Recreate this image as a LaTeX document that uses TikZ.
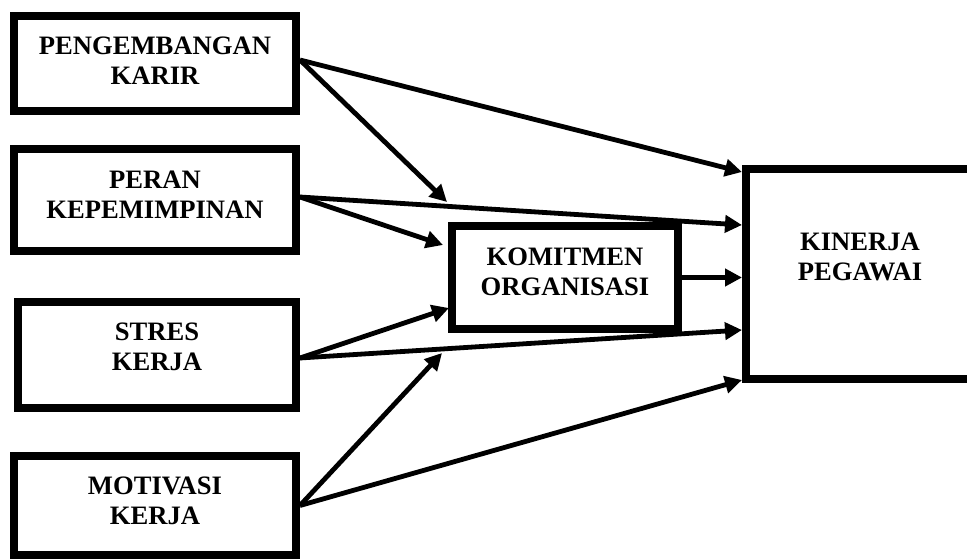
\documentclass[tikz,border=0pt]{standalone}
\usepackage{fontspec}
\setmainfont{Liberation Serif}
\usetikzlibrary{arrows.meta}
\begin{document}
\begin{tikzpicture}[x=1pt,y=-1pt,
  box/.style={draw=black,line width=8pt,rectangle,inner sep=0pt},
  lbl/.style={align=center,font=\fontsize{26.6}{30}\selectfont\bfseries,inner sep=0pt},
  arr/.style={line width=4.8pt,-{Triangle[length=17pt,width=17pt]}}]
\clip (0,0) rectangle (967,559);
\fill[white] (0,0) rectangle (967,559);
% boxes
\node[box,minimum width=282pt,minimum height=95pt] (pk) at (155,63.5) {};
\node[box,minimum width=282pt,minimum height=102pt] (pr) at (155,200) {};
\node[box,minimum width=278pt,minimum height=106pt] (st) at (157,355) {};
\node[box,minimum width=282pt,minimum height=99pt] (mo) at (155,505.5) {};
\node[box,minimum width=226pt,minimum height=103pt] (kom) at (565,277.5) {};
\node[box,minimum width=229pt,minimum height=210pt] (kin) at (860.5,274) {};
% labels
\node[lbl] (pkt) at (155,61) {PENGEMBANGAN\\KARIR};
\node[lbl] (prt) at (155,195) {PERAN\\KEPEMIMPINAN};
\node[lbl] (stt) at (157,347) {STRES\\KERJA};
\node[lbl] (mot) at (155,501) {MOTIVASI\\KERJA};
\node[lbl] (komt) at (565,272) {KOMITMEN\\ORGANISASI};
\node[lbl] (kint) at (860,257) {KINERJA\\PEGAWAI};
% arrows
\draw[arr] ([yshift=3.5pt]pk.east) -- ([yshift=102pt]kin.west);
\draw[arr] ([yshift=3.5pt]pk.east) -- ([shift={(-1pt,20pt)}]kom.north west);
\draw[arr] ([yshift=3pt]pr.east) -- ([yshift=49pt]kin.west);
\draw[arr] ([yshift=3pt]pr.east) -- ([shift={(-5pt,32.5pt)}]kom.west);
\draw[arr] (kom.east) -- (kom.east -| kin.west);
\draw[arr] ([yshift=-3pt]st.east) -- ([shift={(1pt,-30.5pt)}]kom.west);
\draw[arr] ([yshift=-3pt]st.east) -- ([yshift=-56pt]kin.west);
\draw[arr] (mo.east) -- ([shift={(-6pt,-20pt)}]kom.south west);
\draw[arr] (mo.east) -- ([yshift=-106pt]kin.west);
\end{tikzpicture}
\end{document}
